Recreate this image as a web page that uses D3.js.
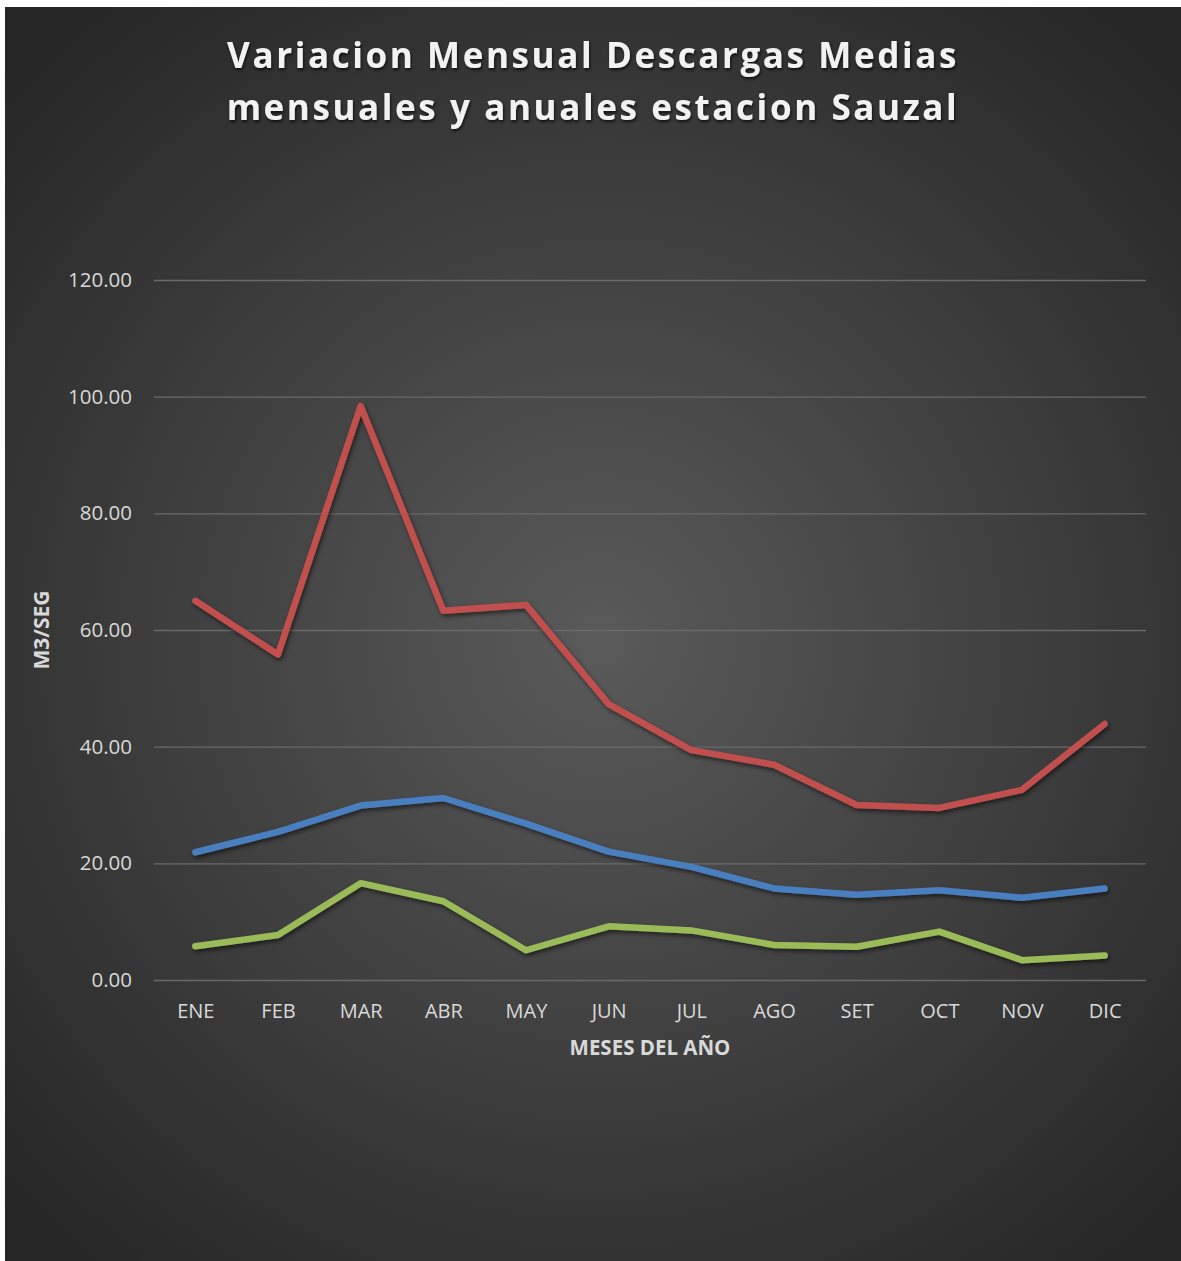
<!DOCTYPE html>
<html>
<head>
<meta charset="utf-8">
<script src="https://cdn.jsdelivr.net/npm/d3@7"></script>
<style>
  html, body { margin: 0; padding: 0; background: #fff; }
  svg { display: block; }
  text { font-family: "Open Sans", "Noto Sans", sans-serif; }
</style>
</head>
<body>
<div id="chart"></div>
<script>
const months = ['ENE','FEB','MAR','ABR','MAY','JUN','JUL','AGO','SET','OCT','NOV','DIC'];
const maximas = [65.0, 55.8, 98.4, 63.3, 64.3, 47.3, 39.4, 36.9, 30.0, 29.5, 32.6, 43.9];
const medias  = [21.9, 25.4, 29.9, 31.2, 26.8, 22.0, 19.4, 15.7, 14.6, 15.4, 14.1, 15.7];
const minimas = [5.8, 7.7, 16.6, 13.5, 5.1, 9.2, 8.5, 6.0, 5.7, 8.3, 3.4, 4.2];
const yTicks = [0, 20, 40, 60, 80, 100, 120];
const titleLines = ['Variacion Mensual Descargas Medias', 'mensuales y anuales estacion Sauzal'];

const W = 1181, H = 1261;
const frame = { x: 5, y: 7, w: 1176, h: 1254 };
const plot = { left: 154, right: 1146, top: 280, bottom: 980 };

const svg = d3.select('#chart').append('svg').attr('width', W).attr('height', H);
const defs = svg.append('defs');

const grad = defs.append('radialGradient').attr('id', 'bg')
  .attr('gradientUnits', 'userSpaceOnUse')
  .attr('cx', 600).attr('cy', 640).attr('r', 820);
grad.append('stop').attr('offset', '0%').attr('stop-color', '#5a5a5a');
grad.append('stop').attr('offset', '100%').attr('stop-color', '#262626');

const shadow = defs.append('filter').attr('id', 'shadow')
  .attr('x', '-10%').attr('y', '-10%').attr('width', '120%').attr('height', '130%');
shadow.append('feDropShadow').attr('dx', 1.5).attr('dy', 2.5).attr('stdDeviation', 2)
  .attr('flood-color', '#000').attr('flood-opacity', 0.55);

const tshadow = defs.append('filter').attr('id', 'tshadow')
  .attr('x', '-5%').attr('y', '-20%').attr('width', '110%').attr('height', '150%');
tshadow.append('feDropShadow').attr('dx', 1).attr('dy', 2).attr('stdDeviation', 1.5)
  .attr('flood-color', '#000').attr('flood-opacity', 0.7);

svg.append('rect').attr('x', frame.x).attr('y', frame.y)
  .attr('width', frame.w).attr('height', frame.h).attr('fill', 'url(#bg)');

// title
svg.append('g').selectAll('text').data(titleLines).join('text')
  .attr('x', 593).attr('y', (d, i) => 68 + i * 52)
  .attr('text-anchor', 'middle')
  .attr('fill', '#f2f2f2').attr('font-size', 35).attr('font-weight', 700)
  .attr('letter-spacing', 2.6)
  .attr('filter', 'url(#tshadow)')
  .text(d => d);

const x = d3.scalePoint().domain(months).range([plot.left, plot.right]).padding(0.5);
const y = d3.scaleLinear().domain([0, 120]).range([plot.bottom, plot.top]);

// gridlines + y labels
const yAxis = d3.axisLeft(y).tickValues(yTicks)
  .tickSize(-(plot.right - plot.left)).tickPadding(22)
  .tickFormat(d3.format('.2f'));
const gy = svg.append('g').attr('transform', `translate(${plot.left},0)`).call(yAxis);
gy.select('.domain').remove();
gy.selectAll('.tick line').attr('stroke', '#6a6a6a').attr('stroke-width', 1.3);
gy.selectAll('.tick text').attr('fill', '#d9d9d9').attr('font-size', 20.5)
  .attr('font-family', '"Open Sans", sans-serif');

// x labels
const xAxis = d3.axisBottom(x).tickSize(0).tickPadding(24);
const gx = svg.append('g').attr('transform', `translate(0,${plot.bottom})`).call(xAxis);
gx.select('.domain').remove();
gx.selectAll('.tick text').attr('fill', '#d9d9d9').attr('font-size', 20)
  .attr('font-family', '"Open Sans", sans-serif');

// axis titles
svg.append('text').attr('x', 650).attr('y', 1055).attr('text-anchor', 'middle')
  .attr('fill', '#d9d9d9').attr('font-size', 20.5).attr('font-weight', 700)
  .text('MESES DEL AÑO');
svg.append('text').attr('transform', 'translate(49,630) rotate(-90)')
  .attr('text-anchor', 'middle')
  .attr('fill', '#d9d9d9').attr('font-size', 21).attr('font-weight', 700)
  .text('M3/SEG');

// lines
const line = d3.line().x((d, i) => x(months[i])).y(d => y(d));
const series = [
  { name: 'medias', values: medias, color: '#4a7ebf' },
  { name: 'maximas', values: maximas, color: '#c0504d' },
  { name: 'minimas', values: minimas, color: '#9bbb59' }
];
svg.append('g').selectAll('path').data(series).join('path')
  .attr('d', d => line(d.values))
  .attr('fill', 'none').attr('stroke', d => d.color)
  .attr('stroke-width', 6.5).attr('stroke-linejoin', 'round').attr('stroke-linecap', 'round')
  .attr('filter', 'url(#shadow)');
</script>
</body>
</html>
